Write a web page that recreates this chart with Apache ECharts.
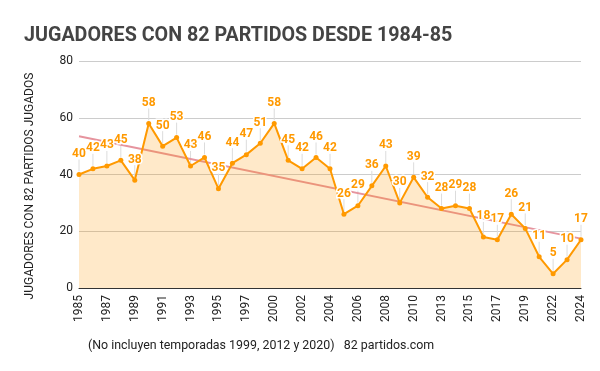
<!DOCTYPE html>
<html>
<head>
<meta charset="utf-8">
<script src="https://cdn.jsdelivr.net/npm/echarts@6/dist/echarts.min.js"></script>
<style>html,body{margin:0;padding:0;background:#fff}#c{width:600px;height:371px}</style>
</head>
<body>
<div id="c"></div>
<script>
var years = ['1985','1986','1987','1988','1989','1990','1991','1992','1993','1994','1995','1996','1997','1998','2000','2001','2002','2003','2004','2005','2006','2007','2008','2009','2010','2011','2013','2014','2015','2016','2017','2018','2019','2021','2022','2023','2024'];
var players = [40,42,43,45,38,58,50,53,43,46,35,44,47,51,58,45,42,46,42,26,29,36,43,30,39,32,28,29,28,18,17,26,21,11,5,10,17];
var trendEnds = [53.5, 17.4];
var yTicks = [0,20,40,60,80];

var trendData = years.map(function(y,i){ return i===0 ? trendEnds[0] : (i===years.length-1 ? trendEnds[1] : null); });
var leaderData = players.map(function(v,i){ return [i, v]; });

var chart = echarts.init(document.getElementById('c'), null, {renderer:'canvas'});
chart.setOption({
  animation:false,
  textStyle:{fontFamily:'Roboto'},
  title:{text:'JUGADORES CON 82 PARTIDOS DESDE 1984-85', left:19, top:21,
    textStyle:{fontFamily:'Roboto', fontWeight:'bold', fontSize:19.7, color:'#444'}},
  graphic:[
    {type:'text', left:88, top:340, style:{text:'(No incluyen temporadas 1999, 2012 y 2020)   82 partidos.com', font:'12.4px Roboto', fill:'#222'}},
    {type:'text', x:30, y:186, rotation:Math.PI/2, style:{text:'JUGADORES CON 82 PARTIDOS JUGADOS', font:'12px Roboto', fill:'#222', align:'center', verticalAlign:'middle'}}
  ],
  grid:{left:79, right:19, top:61, bottom:83, containLabel:false},
  xAxis:{type:'category', data:years, boundaryGap:false,
    axisLine:{lineStyle:{color:'#333', width:1}}, axisTick:{show:false},
    axisLabel:{interval:1, rotate:90, fontSize:12, color:'#222', margin:7, fontFamily:'Roboto'},
    splitLine:{show:false}, z:5},
  yAxis:{type:'value', min:yTicks[0], max:yTicks[yTicks.length-1], interval:20,
    axisLine:{show:false}, axisTick:{show:false},
    axisLabel:{fontSize:12, color:'#222', margin:6, fontFamily:'Roboto'},
    splitLine:{lineStyle:{color:'#ccc', width:1}}},
  series:[
    {type:'custom', data:leaderData, z:1, silent:true,
      renderItem:function(params, api){
        var p = api.coord([api.value(0), api.value(1)]);
        return {type:'line', shape:{x1:p[0], y1:p[1]-3, x2:p[0], y2:p[1]-15},
          style:{stroke:'#dcdcdc', lineWidth:1}};
      }},
    {type:'line', data:players, z:3, symbol:'circle', symbolSize:5,
      lineStyle:{color:'#ff9900', width:2}, itemStyle:{color:'#ff9900'},
      areaStyle:{color:'rgba(255,153,0,0.3)'},
      label:{show:true, position:'top', distance:12, color:'#ff9900', fontWeight:'bold', fontSize:12,
        fontFamily:'Roboto', textBorderColor:'#fff', textBorderWidth:3}},
    {type:'line', data:trendData, connectNulls:true, z:2, symbol:'none',
      lineStyle:{color:'#e6949e', width:2}}
  ]
});
</script>
</body>
</html>
